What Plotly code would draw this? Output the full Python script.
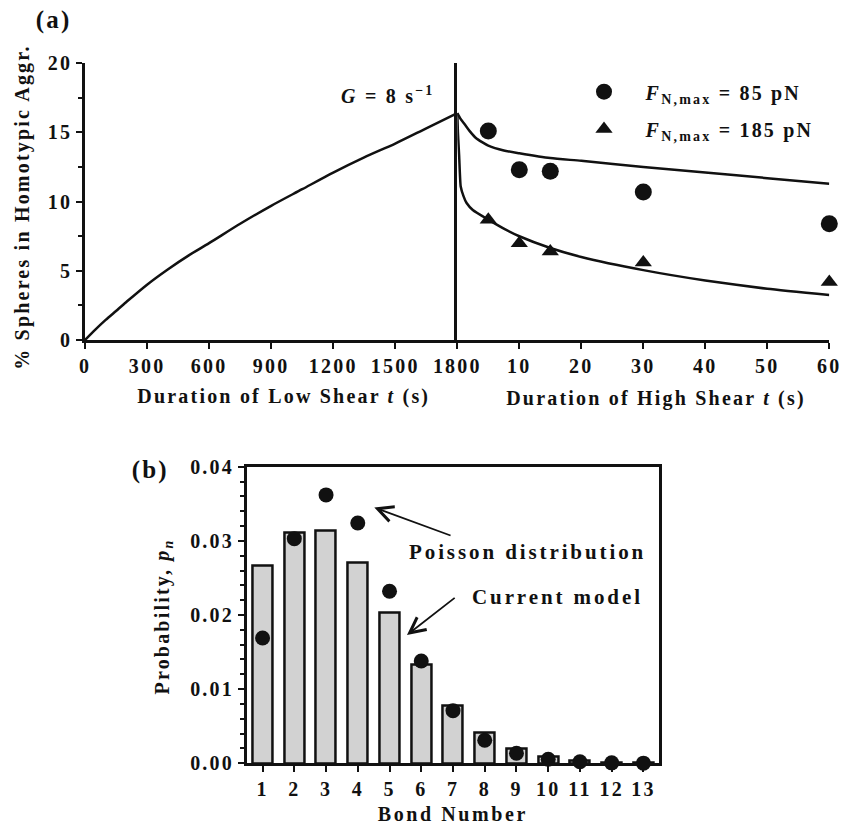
import plotly.graph_objects as go

# ---------------- data: panel (a) ----------------
low_t = [0, 50, 100, 150, 200, 300, 400, 500, 600, 750, 900, 1050, 1200, 1350, 1500, 1650, 1800]
low_pct = [0, 0.75, 1.45, 2.1, 2.75, 4.0, 5.1, 6.1, 7.0, 8.4, 9.7, 10.9, 12.1, 13.2, 14.2, 15.3, 16.4]

fit85_t = [0, 0.5, 1, 1.5, 2, 3, 4, 5, 7.5, 10, 15, 20, 30, 40, 50, 60]
fit85_pct = [16.4, 16.0, 15.7, 15.4, 15.1, 14.6, 14.3, 14.05, 13.7, 13.5, 13.15, 12.95, 12.5, 12.1, 11.7, 11.3]

fit185_t = [0, 0.1, 0.3, 0.55, 1, 1.5, 2.5, 5, 7.5, 10, 15, 20, 30, 40, 50, 60]
fit185_pct = [16.4, 15.0, 13.3, 11.1, 10.4, 9.9, 9.4, 8.7, 8.05, 7.5, 6.65, 6.0, 5.05, 4.3, 3.7, 3.25]

exp_t = [5, 10, 15, 30, 60]
exp85 = [15.1, 12.3, 12.2, 10.7, 8.4]
exp185 = [8.7, 7.0, 6.4, 5.6, 4.2]

low_ticks = [0, 300, 600, 900, 1200, 1500, 1800]
high_ticks = [10, 20, 30, 40, 50, 60]
pct_ticks = [0, 5, 10, 15, 20]

# ---------------- data: panel (b) ----------------
bond_n = [1, 2, 3, 4, 5, 6, 7, 8, 9, 10, 11, 12, 13]
model_p = [0.0267, 0.0311, 0.0314, 0.0271, 0.0203, 0.01335, 0.0078, 0.0041, 0.0020, 0.0009, 0.00035, 0.0001, 0.00003]
poisson_p = [0.0169, 0.0303, 0.0362, 0.0324, 0.0232, 0.0138, 0.0071, 0.0031, 0.00135, 0.00054, 0.0002, 0.00006, 0.00002]

W, H = 842, 827
def fx(px):
    return px / W
def fy(py):
    return 1 - py / H

FONT = "Liberation Serif"
BLACK = "#111111"
LW = 2.5
FS = 20

fig = go.Figure()

fig.add_trace(go.Scatter(x=low_t, y=low_pct, mode="lines",
                         line=dict(color=BLACK, width=LW, shape="spline", smoothing=0.8),
                         xaxis="x", yaxis="y", showlegend=False, hoverinfo="skip"))
fig.add_trace(go.Scatter(x=fit85_t, y=fit85_pct, mode="lines",
                         line=dict(color=BLACK, width=LW, shape="spline", smoothing=0.6),
                         xaxis="x2", yaxis="y2", showlegend=False, hoverinfo="skip"))
fig.add_trace(go.Scatter(x=fit185_t, y=fit185_pct, mode="lines",
                         line=dict(color=BLACK, width=LW, shape="spline", smoothing=0.5),
                         xaxis="x2", yaxis="y2", showlegend=False, hoverinfo="skip"))
NB = "\u00a0"
fig.add_trace(go.Scatter(x=exp_t, y=exp85, mode="markers", xaxis="x2", yaxis="y2", cliponaxis=False,
                         marker=dict(symbol="circle", size=17, color=BLACK),
                         name=NB * 3 + "<i>F</i><sub>N,max</sub> = 85 pN", legend="legend"))
fig.add_trace(go.Scatter(x=exp_t, y=exp185, mode="markers", xaxis="x2", yaxis="y2", cliponaxis=False,
                         marker=dict(symbol="triangle-up", size=15, color=BLACK),
                         name=NB * 3 + "<i>F</i><sub>N,max</sub> = 185 pN", legend="legend2"))

fig.add_trace(go.Bar(x=bond_n, y=model_p, width=0.63, xaxis="x3", yaxis="y3",
                     marker=dict(color="#d2d2d2", line=dict(color=BLACK, width=2.5)),
                     showlegend=False, hoverinfo="skip"))
fig.add_trace(go.Scatter(x=bond_n, y=poisson_p, mode="markers", xaxis="x3", yaxis="y3", cliponaxis=False,
                         marker=dict(symbol="circle", size=15, color=BLACK),
                         showlegend=False, hoverinfo="skip"))

tfont = dict(family=FONT, size=FS, color=BLACK, weight="bold")
axis_common = dict(showline=True, linecolor=BLACK, linewidth=LW, ticks="outside",
                   tickcolor=BLACK, tickwidth=2, ticklen=6, showgrid=False, zeroline=False,
                   automargin=False, tickfont=tfont)

fig.update_layout(
    template="none",
    width=W, height=H,
    margin=dict(l=0, r=0, t=0, b=0, pad=0, autoexpand=False),
    paper_bgcolor="white", plot_bgcolor="white",
    font=dict(family=FONT, size=FS, color=BLACK, weight="bold"),
    xaxis=dict(domain=[fx(85), fx(457.3)], range=[0, 1800], anchor="y",
               tickvals=low_ticks, ticktext=[str(v) for v in low_ticks], **axis_common),
    xaxis2=dict(domain=[fx(457.3), fx(829.3)], range=[0, 60], anchor="y2",
                tickvals=high_ticks, ticktext=[str(v) for v in high_ticks], **axis_common),
    yaxis=dict(domain=[fy(340), fy(63.3)], range=[0, 20], anchor="x",
               tickvals=pct_ticks, ticktext=[str(v) for v in pct_ticks],
               minor=dict(tickvals=[2.5, 7.5, 12.5, 17.5], ticklen=4, tickwidth=2,
                          tickcolor=BLACK, ticks="outside"),
               **axis_common),
    yaxis2=dict(domain=[fy(340), fy(63.3)], range=[0, 20], anchor="x2", showline=True,
                linecolor=BLACK, linewidth=LW, ticks="", showticklabels=False,
                showgrid=False, zeroline=False, automargin=False),
    xaxis3=dict(domain=[fx(246.7), fx(659.3)], range=[0.5, 13.5], anchor="y3", mirror=True,
                tickvals=bond_n, ticktext=[str(v) for v in bond_n], **axis_common),
    yaxis3=dict(domain=[fy(763.3), fy(466.7)], range=[0, 0.04], anchor="x3", mirror=True,
                dtick=0.01, tickformat=".2f",
                minor=dict(dtick=0.002, ticklen=4, tickwidth=2, tickcolor=BLACK, ticks="outside"),
                **axis_common),
    legend=dict(x=fx(584), y=fy(91.7), xanchor="left", yanchor="middle",
                bgcolor="rgba(0,0,0,0)", font=tfont),
    legend2=dict(x=fx(584), y=fy(129), xanchor="left", yanchor="middle",
                 bgcolor="rgba(0,0,0,0)", font=tfont),
    bargap=0,
)

ann_font = dict(family=FONT, size=FS, color=BLACK, weight="bold")
anns = [
    dict(text="(a)", x=fx(53), y=fy(20), font=dict(family=FONT, size=25, color=BLACK, weight="bold")),
    dict(text="(b)", x=fx(150), y=fy(470), font=dict(family=FONT, size=25, color=BLACK, weight="bold")),
    dict(text="<i>G</i> = 8 s<sup>\u22121</sup>", x=fx(388), y=fy(95), font=ann_font),
    dict(text="% Spheres in Homotypic Aggr.", x=fx(22), y=fy(207), textangle=-90, font=ann_font),
    dict(text="Duration of Low Shear <i>t</i> (s)", x=fx(284), y=fy(396), font=ann_font),
    dict(text="Duration of High Shear <i>t</i> (s)", x=fx(656), y=fy(398), font=ann_font),
    dict(text="Probability, <i>p<sub>n</sub></i>", x=fx(163), y=fy(617), textangle=-90, font=ann_font),
    dict(text="Bond Number", x=fx(453), y=fy(814), font=ann_font),
    dict(text="Poisson distribution", x=fx(407), y=fy(551.7), xanchor="left", align="left",
         font=dict(family=FONT, size=21, color=BLACK, weight="bold")),
    dict(text="Current model", x=fx(470), y=fy(597), xanchor="left", align="left",
         font=dict(family=FONT, size=21, color=BLACK, weight="bold")),
]
for a in anns:
    a.setdefault("xanchor", "center")
    fig.add_annotation(xref="paper", yref="paper", yanchor="middle", showarrow=False, **a)

# arrows (head at x,y ; tail at ax,ay) in panel (b) data coordinates
fig.add_annotation(xref="x3", yref="y3", axref="x3", ayref="y3", x=4.52, y=0.0345, ax=6.97, ay=0.03065,
                   text="", showarrow=True, arrowhead=5, arrowsize=1.7, arrowwidth=1.8, arrowcolor=BLACK,
                   standoff=0)
fig.add_annotation(xref="x3", yref="y3", axref="x3", ayref="y3", x=5.55, y=0.0173, ax=7.10, ay=0.02247,
                   text="", showarrow=True, arrowhead=5, arrowsize=1.7, arrowwidth=1.8, arrowcolor=BLACK,
                   standoff=0)

# page without body margin; the original typesetting is letter-spaced -> CSS letter spacing
post = """
document.body.style.margin = '0px';
document.body.style.padding = '0px';
var gd = document.getElementById('{plot_id}');
function spaceText(){
  gd.querySelectorAll('text').forEach(function(t){
    var s = t.textContent || '';
    var ls = '2.2px';
    if (s.indexOf('Poisson') >= 0 || s.indexOf('Current') >= 0) { ls = '2.9px'; }
    else if (s.indexOf('Bond') >= 0) { ls = '2.6px'; }
    t.style.letterSpacing = ls;
  });
  gd.querySelectorAll('.scrollbox').forEach(function(e){ e.removeAttribute('clip-path'); });
}
spaceText();
gd.on('plotly_afterplot', spaceText);
"""
fig.write_html("out.html", post_script=post, config={"displayModeBar": False})
